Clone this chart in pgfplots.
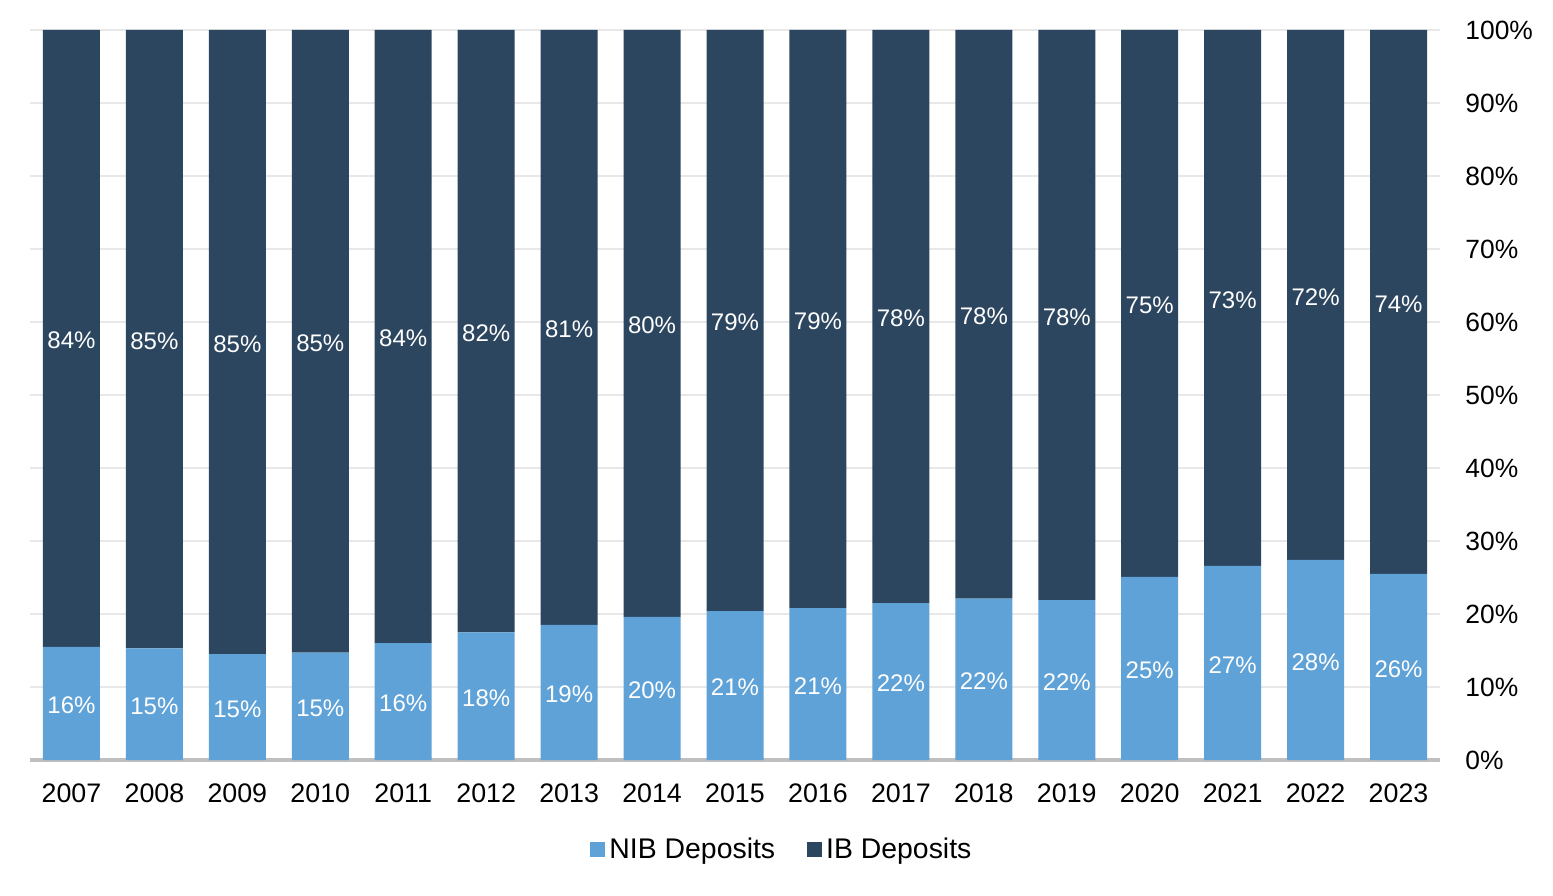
\documentclass[border=0pt]{standalone}
\usepackage{pgfplots}
\pgfplotsset{compat=1.18}
\usepackage{pgfplotstable}
\usepackage{fontspec}
\setmainfont{Liberation Sans}
\definecolor{nib}{HTML}{5FA2D7}
\definecolor{ib}{HTML}{2D4660}
\definecolor{gridc}{HTML}{E8E8E8}
\definecolor{axisgray}{HTML}{BFBFBF}
\pgfplotstableread{
x nib nibl ib ibl
0 15.5 16 84.5 84
1 15.3 15 84.7 85
2 14.5 15 85.5 85
3 14.7 15 85.3 85
4 16.0 16 84.0 84
5 17.5 18 82.5 82
6 18.5 19 81.5 81
7 19.6 20 80.4 80
8 20.4 21 79.6 79
9 20.8 21 79.2 79
10 21.5 22 78.5 78
11 22.1 22 77.9 78
12 21.9 22 78.1 78
13 25.1 25 74.9 75
14 26.6 27 73.4 73
15 27.4 28 72.6 72
16 25.5 26 74.5 74
}\data
\pgfplotsset{common/.style={scale only axis, width=705pt, height=365pt,
  xmin=-0.5, xmax=16.5, ymin=0, ymax=100}}
\begin{document}
\begin{tikzpicture}
\path[use as bounding box] (-15pt,-67.5pt) rectangle (761.5pt,380pt);
\begin{axis}[
  common,
  ybar stacked,
  bar width=28.5pt,
  axis x line=bottom, axis y line=right,
  x axis line style={draw=axisgray, line width=1.6pt, -},
  y axis line style={draw=none},
  major tick length=0pt, tick style={draw=none},
  xtick={0,...,16},
  xticklabels={2007,2008,2009,2010,2011,2012,2013,2014,2015,2016,2017,2018,2019,2020,2021,2022,2023},
  ytick={0,10,...,100},
  yticklabels={0\%,10\%,20\%,30\%,40\%,50\%,60\%,70\%,80\%,90\%,100\%},
  xticklabel style={anchor=north, inner sep=0pt, yshift=-11.8pt, font=\fontsize{13.4}{15}\selectfont},
  yticklabel style={anchor=west, inner sep=0pt, xshift=12.5pt, font=\fontsize{13.2}{15}\selectfont},
  ymajorgrids, grid style={draw=gridc, line width=1pt},
  legend style={at={(0.534,-0.123)}, anchor=center, draw=none, legend columns=2,
    /tikz/every even column/.append style={column sep=14pt},
    font=\fontsize{14.2}{16}\selectfont},
  legend image code/.code={\fill[#1] (0pt,-3.75pt) rectangle (7.5pt,3.75pt);},
]
\addplot[fill=nib, draw=none] table[x=x, y=nib] {\data};
\addplot[fill=ib, draw=none] table[x=x, y=ib] {\data};
\legend{NIB Deposits, IB Deposits}
\end{axis}
\begin{axis}[
  common, axis lines=none, xtick=\empty, ytick=\empty,
  point meta=explicit symbolic,
  nodes near coords={\pgfplotspointmeta\%},
  every node near coord/.append style={anchor=center, text=white, yshift=-1pt,
     font=\fontsize{12}{14}\selectfont},
]
\addplot[draw=none, mark=none] table[x=x, y expr=\thisrow{nib}/2, meta=nibl] {\data};
\addplot[draw=none, mark=none] table[x=x, y expr=\thisrow{nib}+\thisrow{ib}/2, meta=ibl] {\data};
\end{axis}
\end{tikzpicture}
\end{document}
